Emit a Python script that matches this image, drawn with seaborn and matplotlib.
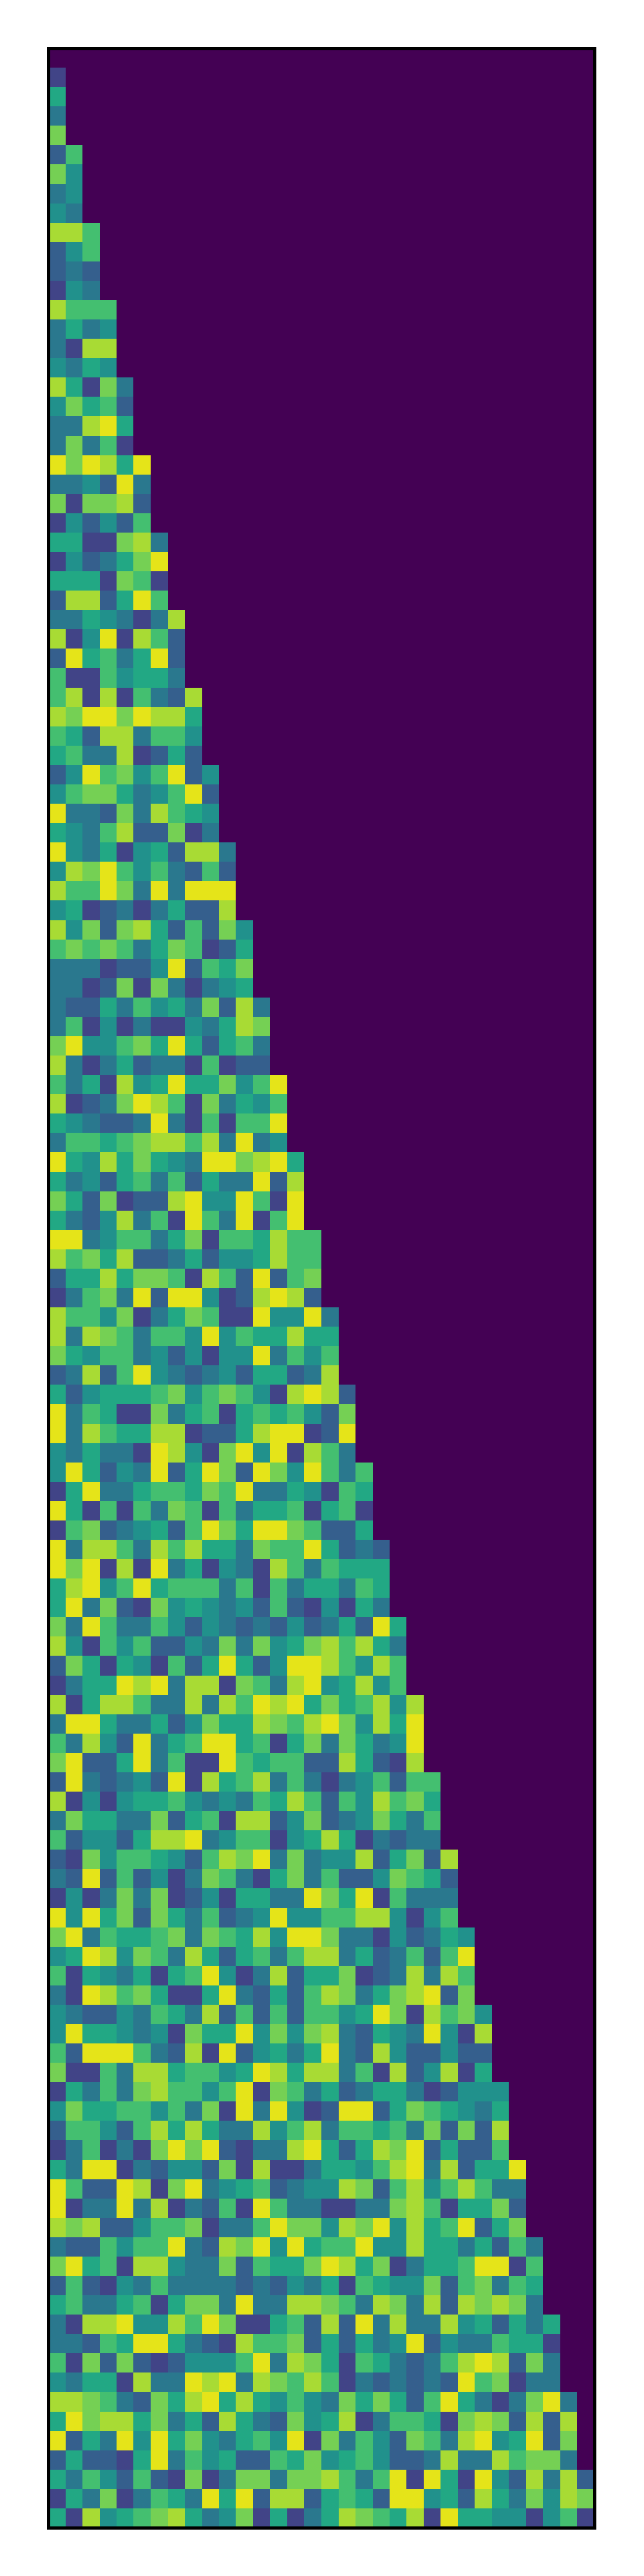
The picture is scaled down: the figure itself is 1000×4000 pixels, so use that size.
import numpy as np
import pandas as pd
import matplotlib
matplotlib.use("Agg")
import matplotlib.pyplot as plt
import seaborn as sns

# Colour level read from each cell, row by row from the top (1 = indigo ... 9 = yellow).
rows_a = ["", "1", "5", "3", "7", "26", "74", "34", "43", "886", "246", "232", "143",
          "8666", "3534", "3188", "4354", "85173", "47562", "33895", "37361",
          "979859", "334293", "717782", "142426", "5511783", "1423579", "5551761", "2882596",
          "33543138", "81491862", "29563592", "61164553",
          "681816328", "879979885", "652883664", "563381252",
          "2496746924", "4677534692", "9332738654", "5436822713",
          "94351452883", "48796463262", "86697393999", "45123135228",
          "847278526274", "676763576125", "333122492657", "331271731345"]
rows_b = ["3225364537283", "3614131143587", "7944675952563", "8313523316122",
          "63518459557469", "81237986173546", "54322393161669", "36656788683934",
          "954857543997895", "534256362533928", "752712289449619", "532483619639169",
          "9934663571665866", "8675822352445866", "2558577618629267", "1367392994128982",
          "86647135761194493", "83876366494655855", "75466342414493646", "23826943234255238",
          "524555674676418982", "936511735615656427", "938655881225899129", "435331984179491863",
          "4952439259729749636", "1593356657693354165", "9516163761635561561", "1672345269759976225"]
rows_c = ["93886386855376695232", "97918193514318636555", "58946956663616355365", "59372174543426214153",
          "739633642432324235295", "841646224373745786853", "275154162595249986486", "135598938817638945846",
          "8158863383869895756848", "3995335247558768974859", "6384293569956157375349", "7922593611965662285218",
          "29323429185683631346266", "81414556434365862648675", "37553372561882472347536", "62442588934661458513233",
          "217466542687937344825728", "329262413763157362247652", "141373712415533975916333", "949572753623494466884146",
          "7936556737658499733142354", "4598476385256368835236269", "6154351569413825571238386", "3198675115932526873578927"]
rows_d = ["43224365382626266459718674", "49554341755947478325439418", "62999632819245359328422422", "71163885664598588361824815",
          "153637866469176352355312444", "475566463719394129925765435", "266426858533846836656372728", "136131797921338952587925226",
          "5399132442718113554689382559", "9622981793456234487268468633", "9133938132619633113378615572", "8782246671336977487948569257",
          "32264669328794956694485535263", "79561884337265579857135569916", "26214363333232435165447267365", "56335615773933887638738287873",
          "318894486971156282938338452535", "332659953218667252534924336551", "617272124446938751653236898273", "435518339893876861323232967133",
          "8876327589585464375752695313793", "5978857352853274581366517872828", "9253949574356491736427638945927", "2522159364522657456422383386773",
          "53642621713773778636919519428382", "15371365395928825652994528537487", "51845678534715135876581955441461"]
level_values = [0.0, 0.2, 0.3, 0.4, 0.5, 0.6, 0.7, 0.79, 0.87, 0.96]
all_rows = rows_a + rows_b + rows_c + rows_d

n_rows = len(all_rows)
n_cols = 32
levels = np.zeros((n_rows, n_cols))
for i, row in enumerate(all_rows):
    assert len(row) == (i + 3) // 4, (i, len(row))
    for j, ch in enumerate(row):
        levels[i, j] = level_values[int(ch)]
frame = pd.DataFrame(levels)

sns.set_theme(style="white")
fig = plt.figure(figsize=(10, 40), dpi=100)
ax = fig.add_axes([0.075, 75 / 4000, 0.848, 3850 / 4000])
sns.heatmap(frame, ax=ax, cmap="viridis", vmin=0, vmax=1, cbar=False,
            xticklabels=False, yticklabels=False, square=False)
ax.tick_params(left=False, bottom=False)
for s in ax.spines.values():
    s.set_visible(True)
    s.set_color("black")
    s.set_linewidth(3.6)
fig.savefig("out.png", dpi=100, facecolor="white")
